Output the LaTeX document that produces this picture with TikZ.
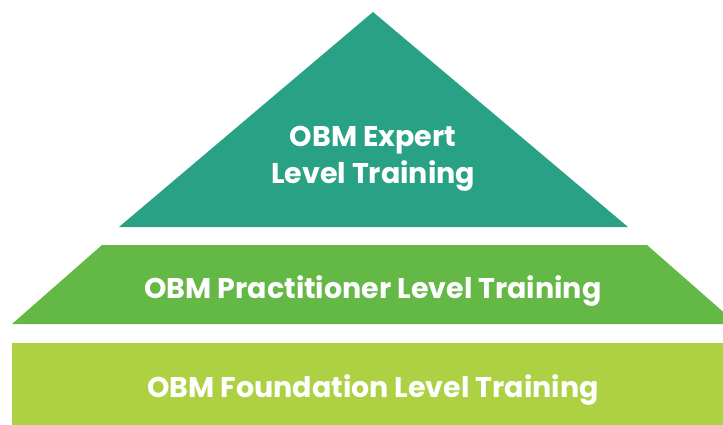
\documentclass[tikz,border=0pt]{standalone}
\usepackage{fontspec}
\setmainfont{Poppins}
\usepackage{tikz}
\definecolor{expertteal}{HTML}{29A184}
\definecolor{practgreen}{HTML}{63B846}
\definecolor{foundlime}{HTML}{ADD143}
\tikzset{levellabel/.style={text=white, font=\fontsize{28.5}{36}\selectfont\bfseries, align=center, inner sep=0pt}}

\begin{document}
\begin{tikzpicture}[x=1pt,y=-1pt]
\clip (0,0) rectangle (723,425);
% the three levels
\fill[expertteal] (373,12) -- (628,227) -- (119,227) -- cycle;
\fill[practgreen] (102,245) -- (647,245) -- (737,324) -- (12,324) -- cycle;
\fill[foundlime] (12,343) rectangle (737,430);
% labels
\node[levellabel, anchor=base] (expert) at (373,183) {OBM Expert\\Level Training};
\node[levellabel, anchor=base] (practitioner) at (373,298) {OBM Practitioner Level Training};
\node[levellabel, anchor=base] (foundation) at (373,397) {OBM Foundation Level Training};
\end{tikzpicture}
\end{document}
